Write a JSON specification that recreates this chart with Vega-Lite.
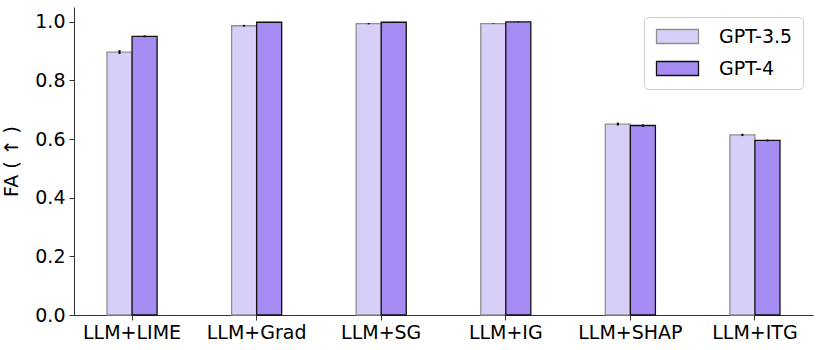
{
  "$schema": "https://vega.github.io/schema/vega-lite/v6.json",
  "width": 739,
  "height": 308,
  "autosize": {"type": "none"},
  "padding": {"left": 74, "top": 7, "right": 9, "bottom": 35},
  "background": "white",
  "config": {
    "font": "DejaVu Sans",
    "view": {"stroke": null},
    "axis": {"labelFont": "DejaVu Sans", "titleFont": "DejaVu Sans", "labelColor": "#000", "titleColor": "#000", "domainColor": "#333", "tickColor": "#333", "grid": false, "labelFontSize": 19, "titleFontSize": 19, "titleFontWeight": "normal", "tickSize": 5},
    "legend": {
      "title": null,
      "orient": "top-right",
      "offset": 10,
      "labelFontSize": 19,
      "labelColor": "#000",
      "labelFont": "DejaVu Sans",
      "symbolType": "M-3,-1H3V1H-3Z",
      "symbolSize": 196,
      "symbolStrokeWidth": 1.3,
      "symbolOffset": 14,
      "rowPadding": 11,
      "labelOffset": 32,
      "padding": 10,
      "strokeColor": "#d0d0d0",
      "cornerRadius": 4,
      "fillColor": "white"
    }
  },
  "data": {
    "values": [
      {"method": "LLM+LIME", "model": "GPT-3.5", "value": 0.896, "lo": 0.890, "hi": 0.903},
      {"method": "LLM+LIME", "model": "GPT-4", "value": 0.950, "lo": 0.947, "hi": 0.953},
      {"method": "LLM+Grad", "model": "GPT-3.5", "value": 0.986, "lo": 0.983, "hi": 0.989},
      {"method": "LLM+Grad", "model": "GPT-4", "value": 0.998, "lo": 0.997, "hi": 0.999},
      {"method": "LLM+SG", "model": "GPT-3.5", "value": 0.993, "lo": 0.991, "hi": 0.995},
      {"method": "LLM+SG", "model": "GPT-4", "value": 0.998, "lo": 0.997, "hi": 0.999},
      {"method": "LLM+IG", "model": "GPT-3.5", "value": 0.993, "lo": 0.992, "hi": 0.994},
      {"method": "LLM+IG", "model": "GPT-4", "value": 0.999, "lo": 0.998, "hi": 1.0},
      {"method": "LLM+SHAP", "model": "GPT-3.5", "value": 0.651, "lo": 0.646, "hi": 0.656},
      {"method": "LLM+SHAP", "model": "GPT-4", "value": 0.646, "lo": 0.642, "hi": 0.650},
      {"method": "LLM+ITG", "model": "GPT-3.5", "value": 0.614, "lo": 0.610, "hi": 0.618},
      {"method": "LLM+ITG", "model": "GPT-4", "value": 0.595, "lo": 0.592, "hi": 0.598}
    ]
  },
  "encoding": {
    "x": {
      "field": "method",
      "type": "nominal",
      "sort": null,
      "scale": {"paddingInner": 0.598, "paddingOuter": 0.265},
      "axis": {"title": null, "labelAngle": 0, "labelPadding": 3, "labelFontSize": 19}
    },
    "xOffset": {"field": "model", "type": "nominal", "sort": ["GPT-3.5", "GPT-4"], "scale": {"paddingInner": 0, "paddingOuter": 0}}
  },
  "layer": [
    {
      "mark": {"type": "bar", "strokeWidth": 1.3},
      "encoding": {
        "y": {
          "field": "value",
          "type": "quantitative",
          "scale": {"domain": [0, 1.05], "nice": false},
          "axis": {"title": "FA ( ↑ )", "values": [0, 0.2, 0.4, 0.6, 0.8, 1.0], "format": ".1f", "titlePadding": 13, "labelPadding": 4, "labelFontSize": 19, "titleFontSize": 19}
        },
        "fill": {
          "field": "model",
          "type": "nominal",
          "sort": ["GPT-3.5", "GPT-4"],
          "scale": {"domain": ["GPT-3.5", "GPT-4"], "range": ["#d8cff8", "#a68bf3"]}
        },
        "stroke": {
          "field": "model",
          "type": "nominal",
          "sort": ["GPT-3.5", "GPT-4"],
          "scale": {"domain": ["GPT-3.5", "GPT-4"], "range": ["#8e8e8e", "#111111"]}
        }
      }
    },
    {
      "mark": {"type": "rule", "color": "#000", "strokeWidth": 2},
      "encoding": {
        "y": {"field": "lo", "type": "quantitative"},
        "y2": {"field": "hi"}
      }
    }
  ]
}
